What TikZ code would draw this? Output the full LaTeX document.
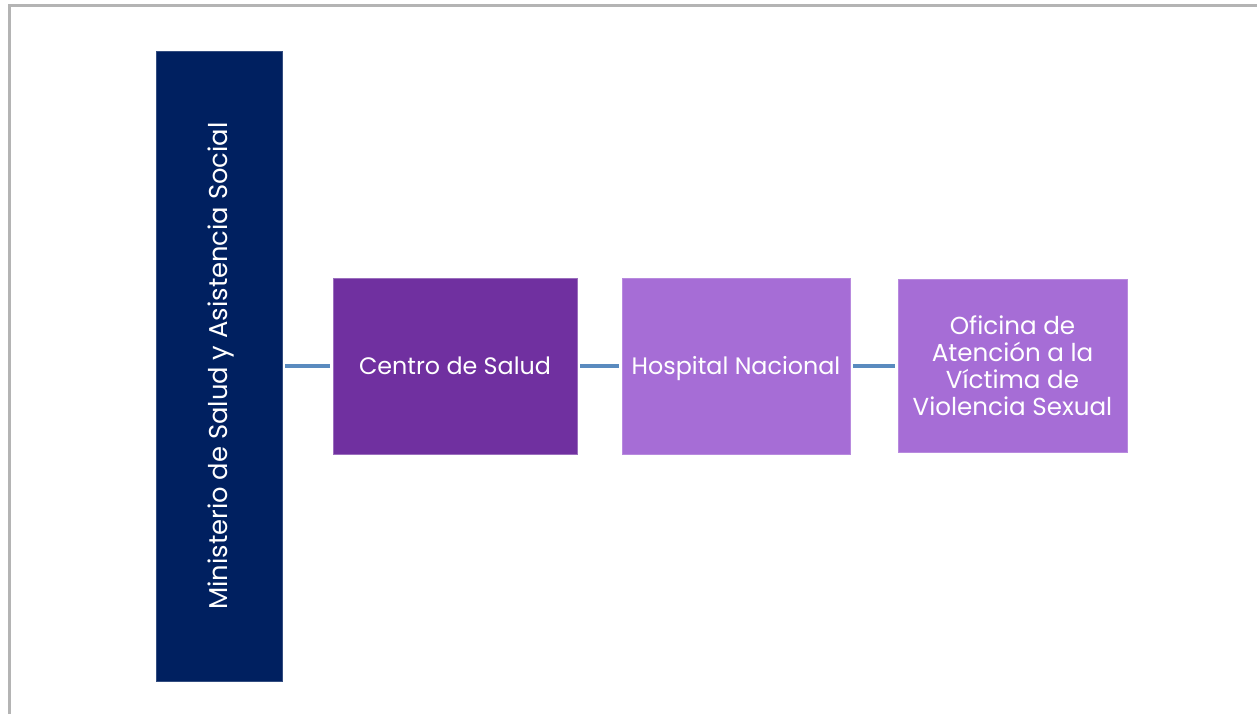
\documentclass[tikz,border=0pt]{standalone}
\usepackage{fontspec}
\setmainfont{Poppins}
\usepackage{tikz}
\usetikzlibrary{positioning}

\definecolor{navy}{HTML}{002060}
\definecolor{darkviolet}{HTML}{7030A0}
\definecolor{lightviolet}{HTML}{A66DD6}
\definecolor{linkblue}{HTML}{5A8BBF}
\definecolor{framegray}{HTML}{B4B4B4}

\begin{document}
\begin{tikzpicture}[x=0.5pt,y=-0.5pt,
    unit/.style={rectangle, text=white, font=\fontsize{11.9}{13.5}\selectfont,
        align=center, inner sep=0pt, line width=0.4pt},
    oneline/.style={text height=1.9ex, text depth=0.3ex},
    link/.style={draw=linkblue, line width=1.6pt, shorten >=1.5pt, shorten <=1.5pt}]
        \def\ymid{366}

        \useasboundingbox (0,0) rectangle (1257,714);

        % frame
        \draw[framegray, line width=1.5pt] (9,714) -- (9,5) -- (1257,5);

        \node[unit, fill=navy, draw=navy!80!white, minimum width=63pt, minimum height=315pt] (mspas) at (219,\ymid) {};
        \node[unit, oneline, rotate=90, font=\fontsize{12.9}{14}\selectfont] (mspastext) at (mspas.center) {Ministerio de Salud y Asistencia Social};

        \node[unit, oneline, fill=darkviolet, draw=darkviolet!70!white, minimum width=122pt, minimum height=88pt] (centro) at (455,\ymid) {Centro de Salud};
        \node[unit, oneline, fill=lightviolet, draw=lightviolet!80!white, minimum width=114pt, minimum height=88pt] (hospital) at (736,\ymid) {Hospital Nacional};
        \node[unit, fill=lightviolet, draw=lightviolet!80!white, minimum width=114.5pt, minimum height=86.5pt,
            font=\fontsize{12.3}{13.5}\selectfont] (oficina) at (1012.5,\ymid)
            {Oficina de\\Atención a la\\Víctima de\\Violencia Sexual};

        \draw[link] (mspas.east) -- (centro.west);
        \draw[link] (centro.east) -- (hospital.west);
        \draw[link] (hospital.east) -- (oficina.west);
    \end{tikzpicture}
\end{document}
